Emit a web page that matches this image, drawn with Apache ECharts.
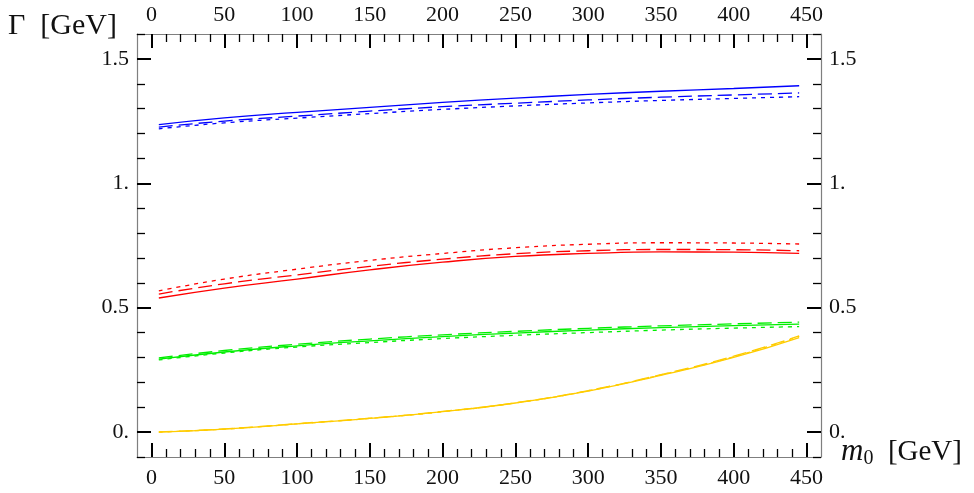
<!DOCTYPE html>
<html>
<head>
<meta charset="utf-8">
<script src="https://cdn.jsdelivr.net/npm/echarts@6/dist/echarts.min.js"></script>
<style>html,body{margin:0;padding:0;background:#fff}#c{width:974px;height:493px}</style>
</head>
<body>
<div id="c"></div>
<script>
// x positions (m0 in GeV)
const m0 = [5, 50, 100, 150, 200, 250, 300, 350, 400, 445];
// Blue
const blueSolid  = [1.236, 1.263, 1.285, 1.305, 1.325, 1.342, 1.357, 1.370, 1.381, 1.392];
const blueDashed = [1.226, 1.250, 1.270, 1.290, 1.308, 1.322, 1.335, 1.346, 1.355, 1.363];
const blueDotted = [1.219, 1.243, 1.262, 1.280, 1.297, 1.311, 1.323, 1.333, 1.341, 1.348];
// Red
const redSolid  = [0.539, 0.579, 0.615, 0.652, 0.683, 0.706, 0.718, 0.724, 0.723, 0.718];
const redDashed = [0.555, 0.596, 0.632, 0.666, 0.695, 0.717, 0.729, 0.734, 0.733, 0.729];
const redDotted = [0.568, 0.615, 0.655, 0.690, 0.718, 0.741, 0.755, 0.761, 0.760, 0.756];
// Green
const greenSolid  = [0.293, 0.322, 0.347, 0.367, 0.384, 0.398, 0.410, 0.420, 0.428, 0.434];
const greenDashed = [0.298, 0.328, 0.353, 0.374, 0.391, 0.405, 0.417, 0.427, 0.435, 0.442];
const greenDotted = [0.290, 0.318, 0.342, 0.360, 0.376, 0.389, 0.400, 0.410, 0.418, 0.424];
// Yellow
const yellowSolid  = [0.000, 0.012, 0.033, 0.055, 0.082, 0.117, 0.165, 0.228, 0.300, 0.380];
const yellowDashed = [0.001, 0.013, 0.034, 0.056, 0.083, 0.118, 0.167, 0.231, 0.305, 0.387];
const yellowDotted = [0.000, 0.012, 0.033, 0.055, 0.082, 0.117, 0.166, 0.230, 0.303, 0.385];

// tick values
const xMajor = [0, 50, 100, 150, 200, 250, 300, 350, 400, 450];
const xMinor = [];
for (let v = 0; v <= 450; v += 10) if (v % 50 !== 0) xMinor.push(v);
const yMajor = [0, 0.5, 1, 1.5];
const yMajorLabels = ['0.', '0.5', '1.', '1.5'];
const yMinor = [];
for (let k = -1; k <= 16; k++) if (k % 5 !== 0) yMinor.push(+(k / 10).toFixed(1));

const FONT = 'Liberation Serif';
const frame = '#7f7f7f';
const ink = '#111';

function pairs(ys) { return m0.map((x, i) => [x, ys[i]]); }

function mkX(pos, major, showLine) {
  return {
    type: 'value', position: pos, min: -10, max: 460, gridIndex: 0,
    axisLine: { show: showLine, onZero: false, lineStyle: { color: frame, width: 1.2 } },
    axisTick: { show: true, inside: true, customValues: major ? xMajor : xMinor, length: major ? 14 : 8,
      lineStyle: { color: '#000', width: major ? 2 : 1.3 } },
    axisLabel: { show: major, customValues: xMajor, margin: pos === 'bottom' ? 10 : 8,
      fontFamily: FONT, fontSize: 22, color: ink },
    splitLine: { show: false }
  };
}
function mkY(pos, major, showLine) {
  return {
    type: 'value', position: pos, min: -0.1, max: 1.6, gridIndex: 0,
    axisLine: { show: showLine, onZero: false, lineStyle: { color: frame, width: 1.2 } },
    axisTick: { show: true, inside: true, customValues: major ? yMajor : yMinor, length: major ? 14 : 8,
      lineStyle: { color: '#000', width: major ? 2 : 1.3 } },
    axisLabel: { show: major, customValues: yMajor, margin: 8,
      fontFamily: FONT, fontSize: 22, color: ink,
      formatter: v => { const i = yMajor.findIndex(t => Math.abs(t - v) < 1e-9); return i >= 0 ? yMajorLabels[i] : ''; } },
    splitLine: { show: false }
  };
}

const xAxes = [mkX('bottom', true, true), mkX('bottom', false, false), mkX('top', true, true), mkX('top', false, false)];
xAxes[0].name = '{m|m}{s|0}{n|  [GeV]}';
xAxes[0].nameLocation = 'end';
xAxes[0].nameGap = 20;
xAxes[0].nameMoveOverlap = false;
xAxes[0].nameTextStyle = {
  fontFamily: FONT, color: ink, verticalAlign: 'middle', padding: [0, 0, 10, 0],
  rich: {
    m: { fontFamily: FONT, fontStyle: 'italic', fontSize: 31, color: ink },
    s: { fontFamily: FONT, fontSize: 20, color: ink, verticalAlign: 'bottom', padding: [14, 0, 0, 0] },
    n: { fontFamily: FONT, fontSize: 29, color: ink }
  }
};
const yAxes = [mkY('left', true, true), mkY('left', false, false), mkY('right', true, true), mkY('right', false, false)];
yAxes[0].name = 'Γ  [GeV]';
yAxes[0].nameLocation = 'end';
yAxes[0].nameGap = 8;
yAxes[0].nameMoveOverlap = false;
yAxes[0].nameTextStyle = { fontFamily: FONT, fontSize: 30, color: ink, align: 'right', verticalAlign: 'middle', padding: [0, 20, 0, 0] };

function line(data, color, type) {
  return {
    type: 'line', xAxisIndex: 0, yAxisIndex: 0, data: pairs(data), smooth: true, symbol: 'none',
    lineStyle: { color: color, width: 1.3, type: type === 'dashed' ? [14, 6] : type === 'dotted' ? [4, 5] : 'solid' },
    silent: true, animation: false
  };
}

const chart = echarts.init(document.getElementById('c'), null, { renderer: 'canvas' });
chart.setOption({
  animation: false,
  backgroundColor: '#fff',
  grid: { left: 137, right: 153, top: 34, bottom: 36, containLabel: false },
  xAxis: xAxes,
  yAxis: yAxes,
  series: [
    line(yellowSolid, '#ffcc00', 'solid'), line(yellowDashed, '#ffcc00', 'dashed'), line(yellowDotted, '#ffcc00', 'dotted'),
    line(greenSolid, '#00ee00', 'solid'), line(greenDashed, '#00ee00', 'dashed'), line(greenDotted, '#00ee00', 'dotted'),
    line(redSolid, '#ff0000', 'solid'), line(redDashed, '#ff0000', 'dashed'), line(redDotted, '#ff0000', 'dotted'),
    line(blueSolid, '#0000ff', 'solid'), line(blueDashed, '#0000ff', 'dashed'), line(blueDotted, '#0000ff', 'dotted')
  ]
});
</script>
</body>
</html>
